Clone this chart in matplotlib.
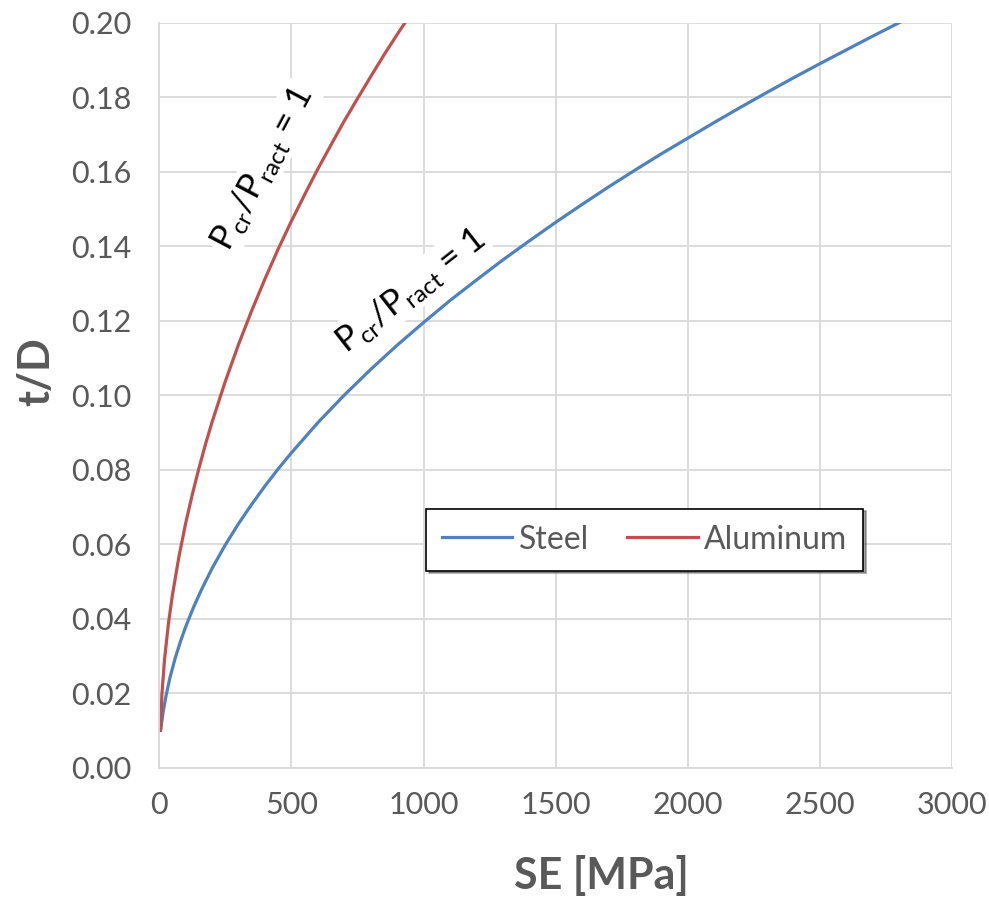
import matplotlib.pyplot as plt

plt.rcParams['font.family'] = ['Lato', 'DejaVu Sans']

# values
se_steel = [5, 10, 15, 25, 40, 60, 80, 100, 130, 160, 200, 250, 300, 350, 400, 450,
            500, 600, 700, 800, 900, 1000, 1100, 1200, 1300, 1400, 1500, 1600, 1700,
            1800, 1900, 2000, 2100, 2200, 2300, 2400, 2500, 2600, 2700, 2800]
td_steel = [0.0100, 0.0125, 0.0150, 0.0190, 0.0240, 0.0293, 0.0338, 0.0378, 0.0431,
            0.0478, 0.0535, 0.0598, 0.0655, 0.0707, 0.0756, 0.0802, 0.0845, 0.0926,
            0.1000, 0.1069, 0.1134, 0.1195, 0.1254, 0.1309, 0.1363, 0.1414, 0.1464,
            0.1512, 0.1559, 0.1604, 0.1648, 0.1690, 0.1732, 0.1773, 0.1813, 0.1852,
            0.1890, 0.1927, 0.1964, 0.2000]
se_alu = [5, 10, 20, 35, 50, 75, 100, 125, 150, 175, 200, 250, 300, 350, 400, 450,
          500, 550, 600, 650, 700, 750, 800, 850, 900, 930]
td_alu = [0.0100, 0.0195, 0.0290, 0.0388, 0.0464, 0.0568, 0.0656, 0.0733, 0.0803,
          0.0868, 0.0928, 0.1037, 0.1136, 0.1227, 0.1312, 0.1392, 0.1467, 0.1538,
          0.1607, 0.1672, 0.1736, 0.1796, 0.1855, 0.1913, 0.1968, 0.2000]

xticks = [0, 500, 1000, 1500, 2000, 2500, 3000]
yticks = [0.00, 0.02, 0.04, 0.06, 0.08, 0.10, 0.12, 0.14, 0.16, 0.18, 0.20]

grid_c = '#d9d9d9'
txt_c = '#595959'

fig = plt.figure(figsize=(9.89, 9.01), dpi=100)
ax = fig.add_axes([0.161, 0.148, 0.802, 0.827])

ax.plot(se_steel, td_steel, color='#4f81bd', lw=2.3, label='Steel')
ax.plot(se_alu, td_alu, color='#c0504d', lw=2.3, label='Aluminum')

ax.set_xlim(0, 3000)
ax.set_ylim(0, 0.20)
ax.set_xticks(xticks)
ax.set_yticks(yticks)
ax.set_yticklabels(['%.2f' % v for v in yticks])
ax.grid(True, color=grid_c, lw=1.3)
ax.set_axisbelow(True)
for s in ['top', 'right']:
    ax.spines[s].set_visible(False)
for s in ['left', 'bottom']:
    ax.spines[s].set_color(grid_c)
    ax.spines[s].set_linewidth(1.3)
ax.tick_params(length=0, labelsize=22, labelcolor=txt_c)
ax.tick_params(axis='y', pad=20)
ax.tick_params(axis='x', pad=17)

ax.set_xlabel('SE [MPa]', fontsize=31, fontweight='bold', color=txt_c)
ax.set_ylabel('t/D', fontsize=31, fontweight='bold', color=txt_c)
ax.xaxis.set_label_coords(0.557, -0.117)
ax.yaxis.set_label_coords(-0.13, 0.531)

box = dict(facecolor='white', edgecolor='none', pad=2)
ax.text(390, 0.161, r'P$_{\mathregular{cr}}$/P$_{\mathregular{ract}}$ = 1', rotation=62,
        fontsize=25, ha='center', va='center', bbox=box)
ax.text(950, 0.128, r'P$_{\mathregular{cr}}$/P$_{\mathregular{ract}}$ = 1', rotation=38,
        fontsize=25, ha='center', va='center', bbox=box)

leg = ax.legend(loc='center', bbox_to_anchor=(0.612, 0.306), ncol=2, fontsize=23,
                frameon=True, fancybox=False, shadow=True, handlelength=2.2,
                columnspacing=1.2, handletextpad=0.2, borderpad=0.5)
leg.get_frame().set_edgecolor('black')
leg.get_frame().set_linewidth(1.2)
for t in leg.get_texts():
    t.set_color(txt_c)

fig.savefig('out.png', dpi=100)
